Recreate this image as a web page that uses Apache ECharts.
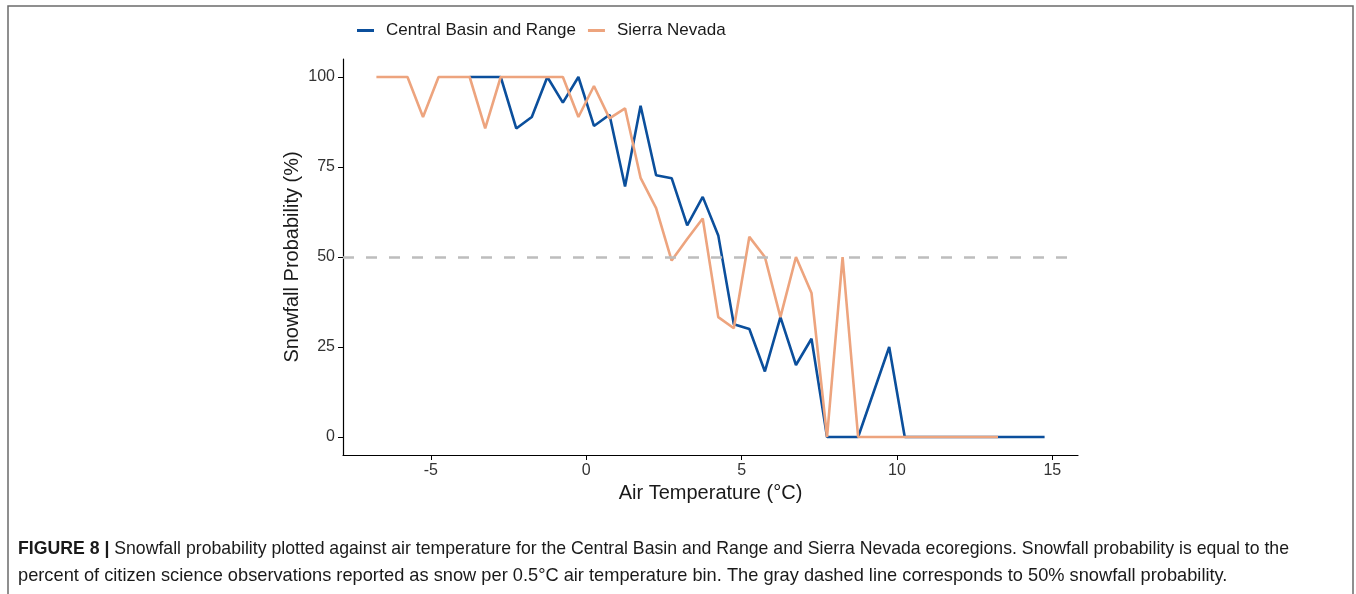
<!DOCTYPE html>
<html>
<head>
<meta charset="utf-8">
<script src="https://cdn.jsdelivr.net/npm/echarts@6/dist/echarts.min.js"></script>
<style>
html,body{margin:0;padding:0;background:#fff;}
#chart{width:1356px;height:594px;}
</style>
</head>
<body>
<div id="chart"></div>
<script>
// Bin centres (°C) and snowfall probability (%) per series
var cbrTemps = [-3.75,-3.25,-2.75,-2.25,-1.75,-1.25,-0.75,-0.25,0.25,0.75,1.25,1.75,2.25,2.75,3.25,3.75,4.25,4.75,5.25,5.75,6.25,6.75,7.25,7.75,8.25,8.75,9.25,9.75,10.25,10.75,11.25,11.75,12.25,12.75,13.25,13.75,14.25,14.75];
var cbrValues = [100,100,100,85.7,88.9,100,92.9,100,86.4,89.5,69.6,92,72.7,71.9,58.8,66.7,56,31.3,30,18.2,33.3,20,27.3,0,0,0,12.5,25,0,0,0,0,0,0,0,0,0,0];
var snTemps = [-6.75,-6.25,-5.75,-5.25,-4.75,-4.25,-3.75,-3.25,-2.75,-2.25,-1.75,-1.25,-0.75,-0.25,0.25,0.75,1.25,1.75,2.25,2.75,3.25,3.75,4.25,4.75,5.25,5.75,6.25,6.75,7.25,7.75,8.25,8.75,9.25,9.75,10.25,10.75,11.25,11.75,12.25,12.75,13.25];
var snValues = [100,100,100,88.9,100,100,100,85.7,100,100,100,100,100,88.9,97.5,88.5,91.3,72,63.6,49,55,60.7,33.3,30.2,55.6,50,33.3,50,40,0,50,0,0,0,0,0,0,0,0,0,0];
var xTicks = [-5,0,5,10,15];
var yTicks = [0,25,50,75,100];
var threshold = 50;
var seriesNames = ['Central Basin and Range','Sierra Nevada'];
var captionLines = [
  'Snowfall probability plotted against air temperature for the Central Basin and Range and Sierra Nevada ecoregions. Snowfall probability is equal to the',
  'percent of citizen science observations reported as snow per 0.5°C air temperature bin. The gray dashed line corresponds to 50% snowfall probability.'
];

function pairs(xs, ys){ return xs.map(function(x,i){ return [x, ys[i]]; }); }

var chart = echarts.init(document.getElementById('chart'));
var font = 'Liberation Sans, Arial, sans-serif';
chart.setOption({
  animation:false,
  backgroundColor:'#fff',
  grid:{left:343,right:278,top:59,bottom:139},
  legend:{
    data:seriesNames,
    left:352, top:17,
    icon:'rect', itemWidth:17, itemHeight:3, itemGap:12,
    textStyle:{fontFamily:font,fontSize:17,color:'#1a1a1a',padding:[0,0,0,7]}
  },
  xAxis:{
    type:'value', min:-7.825, max:15.825,
    splitLine:{show:false},
    axisLine:{onZero:false,lineStyle:{color:'#000',width:1.2}},
    axisTick:{show:true,length:5,lineStyle:{color:'#000'},customValues:xTicks},
    axisLabel:{fontFamily:font,fontSize:16,color:'#333',margin:8,customValues:xTicks},
    name:'Air Temperature (°C)', nameLocation:'middle', nameGap:28, nameMoveOverlap:false,
    nameTextStyle:{fontFamily:font,fontSize:20,color:'#1a1a1a'}
  },
  yAxis:{
    type:'value', min:-5, max:105,
    splitLine:{show:false},
    axisLine:{show:true,onZero:false,lineStyle:{color:'#000',width:1.2}},
    axisTick:{show:true,length:5,lineStyle:{color:'#000'},customValues:yTicks},
    axisLabel:{fontFamily:font,fontSize:16,color:'#333',margin:8,customValues:yTicks},
    name:'Snowfall Probability (%)', nameLocation:'middle', nameGap:41, nameMoveOverlap:false,
    nameTextStyle:{fontFamily:font,fontSize:20,color:'#1a1a1a'}
  },
  series:[
    {
      type:'line', name:'ref', data:[], silent:true,
      markLine:{silent:true,symbol:'none',label:{show:false},
        lineStyle:{color:'#bdbdbd',type:[11,12],width:2.5},
        data:[{yAxis:threshold}]}
    },
    {
      type:'line', name:seriesNames[0], data:pairs(cbrTemps,cbrValues),
      showSymbol:false, color:'#0b4f9c', lineStyle:{width:2.6,color:'#0b4f9c'}
    },
    {
      type:'line', name:seriesNames[1], data:pairs(snTemps,snValues),
      showSymbol:false, color:'#eda47e', lineStyle:{width:2.6,color:'#eda47e'}
    }
  ],
  graphic:[
    {type:'rect',shape:{x:8,y:6,width:1345,height:600},style:{fill:'none',stroke:'#6b6b6b',lineWidth:1.5},silent:true},
    {type:'text',x:18,y:539,scaleX:0.93,style:{
      text:'{b|FIGURE 8 |} ' + captionLines[0],
      rich:{b:{fontFamily:font,fontWeight:'bold',fontSize:19,fill:'#1a1a1a'}},
      fontFamily:font,fontSize:19,fill:'#1a1a1a'}},
    {type:'text',x:18,y:566,scaleX:0.96,style:{
      text:captionLines[1],
      fontFamily:font,fontSize:19,fill:'#1a1a1a'}}
  ]
});
</script>
</body>
</html>
